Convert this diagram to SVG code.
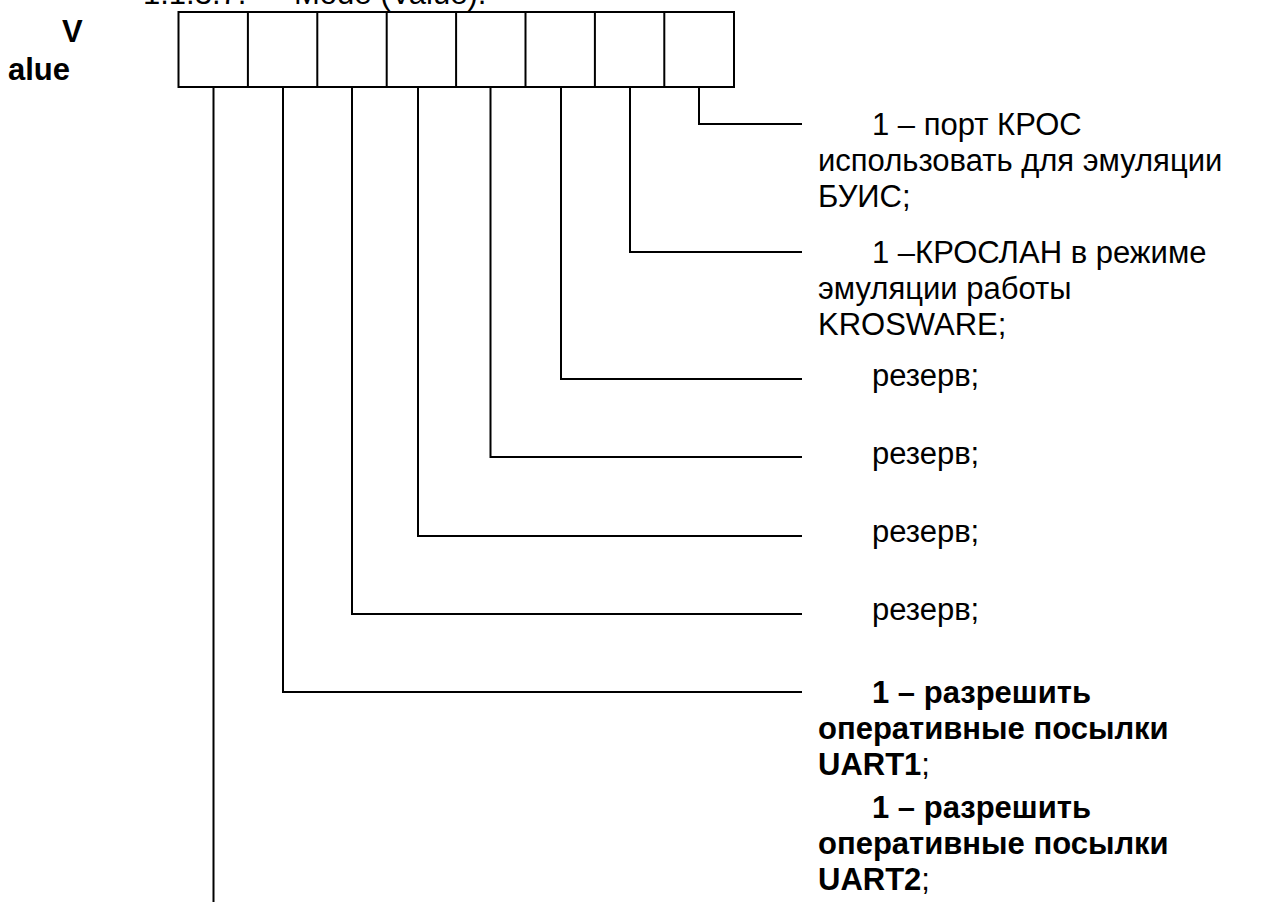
<svg xmlns="http://www.w3.org/2000/svg" width="1277" height="902" viewBox="0 0 1277 902">
<style>
  .ln { fill: none; stroke: #000; stroke-width: 2; }
  .t { font-family: "Liberation Sans", Arial, sans-serif; font-size: 31px; fill: #000; }
  .b { font-weight: bold; }
</style>
<rect x="0" y="0" width="1277" height="902" fill="#fff"/>
<g id="title">
  <text class="t" x="143" y="4">1.1.3.7.</text>
  <text class="t" x="294" y="4">Mode (Value).</text>
</g>
<g id="label">
  <text class="t b" x="62" y="42">V</text>
  <text class="t b" x="8" y="80">alue</text>
</g>
<g id="register">
  <rect class="ln" x="178.5" y="12" width="555.5" height="75"/>
  <path class="ln" d="M247.9 12V87M317.3 12V87M386.7 12V87M456.1 12V87M525.5 12V87M594.9 12V87M664.3 12V87"/>
</g>
<g id="connectors">
  <polyline class="ln" points="699,87 699,124 802,124"/>
  <polyline class="ln" points="630,87 630,252 802,252"/>
  <polyline class="ln" points="561,87 561,379 802,379"/>
  <polyline class="ln" points="490.5,87 490.5,457 802,457"/>
  <polyline class="ln" points="418,87 418,536 802,536"/>
  <polyline class="ln" points="352,87 352,614 802,614"/>
  <polyline class="ln" points="283,87 283,692 802,692"/>
  <polyline class="ln" points="213.5,87 213.5,902"/>
</g>
<g id="bit7">
  <text class="t" x="872" y="135">1 – порт КРОС</text>
  <text class="t" x="818" y="171">использовать для эмуляции</text>
  <text class="t" x="818" y="207">БУИС;</text>
</g>
<g id="bit6">
  <text class="t" x="872" y="263">1 –КРОСЛАН в режиме</text>
  <text class="t" x="818" y="299">эмуляции работы</text>
  <text class="t" x="818" y="335">KROSWARE;</text>
</g>
<g id="bit5"><text class="t" x="872" y="386">резерв;</text></g>
<g id="bit4"><text class="t" x="872" y="464">резерв;</text></g>
<g id="bit3"><text class="t" x="872" y="542">резерв;</text></g>
<g id="bit2"><text class="t" x="872" y="620">резерв;</text></g>
<g id="bit1">
  <text class="t b" x="872" y="703">1 – разрешить</text>
  <text class="t b" x="818" y="739">оперативные посылки</text>
  <text class="t" x="818" y="775"><tspan class="b">UART1</tspan>;</text>
</g>
<g id="bit0">
  <text class="t b" x="872" y="818">1 – разрешить</text>
  <text class="t b" x="818" y="854">оперативные посылки</text>
  <text class="t" x="818" y="890"><tspan class="b">UART2</tspan>;</text>
</g>
</svg>
